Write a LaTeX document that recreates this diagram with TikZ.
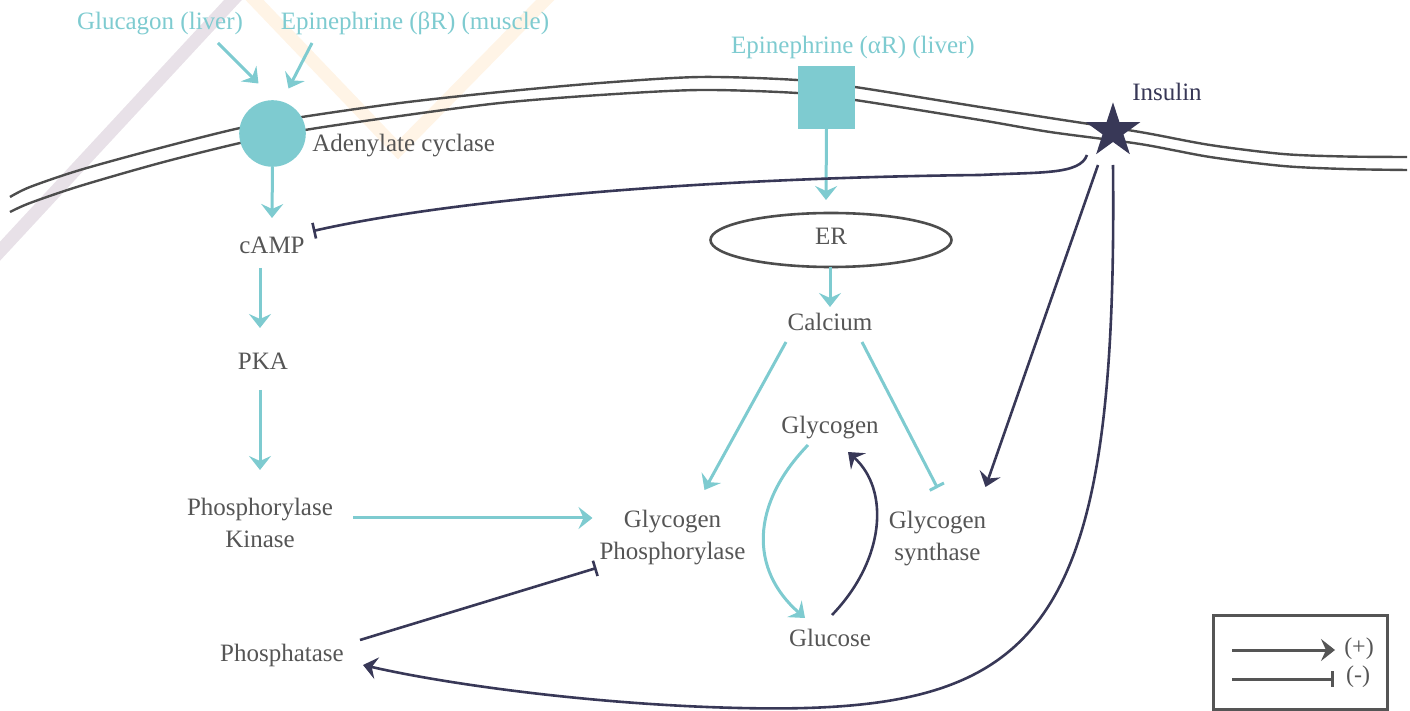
\documentclass[tikz,border=0pt]{standalone}
\usepackage{fontspec}
\setmainfont{Liberation Serif}
\usetikzlibrary{arrows.meta,shapes.geometric,calc}
\definecolor{teal1}{HTML}{7ECBD0}
\definecolor{navy1}{HTML}{383857}
\definecolor{txt}{HTML}{555555}
\definecolor{mem}{HTML}{4D4D4D}
\definecolor{wmp}{HTML}{E8E1E8}
\definecolor{wmo}{HTML}{FFF4E6}
\begin{document}
\begin{tikzpicture}[x=0.5pt,y=-0.5pt,
  lbl/.style={inner sep=0pt, text height=0.7em, text depth=0.22em, font=\fontsize{12.5}{16}\selectfont, text=txt},
  lbltwo/.style={inner sep=0pt, align=center, font=\fontsize{12.5}{16}\selectfont, text=txt},
  tlbl/.style={lbl, text=teal1},
  act/.style={draw=teal1, line width=1.5pt, -{Stealth[length=7pt,width=11pt,inset=2.5pt]}},
  actn/.style={draw=navy1, line width=1.3pt, -{Stealth[length=7pt,width=11pt,inset=2.5pt]}},
  inht/.style={draw=teal1, line width=1.5pt, -{Bar[width=8pt]}},
  inhn/.style={draw=navy1, line width=1.3pt, -{Bar[width=8pt]}},
  memb/.style={draw=mem, line width=1.2pt},
]
\useasboundingbox (0,0) rectangle (1410,711);
% faint watermark strokes
\draw[wmp, line width=6.5pt] (245,-13) -- (-10,262);
\draw[wmo, line width=6.5pt] (245,-10) -- (398,150) -- (555,-10);
% membrane
\draw[memb] plot[smooth, tension=0.5] coordinates {(10,197) (30,187) (80,170) (160,148) (240,128) (302,117) (400,103) (500,92) (600,83) (700,77) (797,80) (855,87) (980,107) (1050,118) (1140,132) (1210,145) (1283,154) (1345,156.5) (1407,157)};
\draw[memb] plot[smooth, tension=0.5] coordinates {(10,212) (30,203) (80,186) (160,163) (240,143) (305,130) (400,116) (500,103) (600,95) (700,90) (797,93) (855,100) (980,120) (1050,132) (1140,144) (1210,157) (1283,166) (1345,169) (1407,170)};
% receptors
\node[circle, fill=teal1, minimum size=33.3pt, inner sep=0pt] (ac) at (272.5,133.5) {};
\node[rectangle, fill=teal1, minimum width=28.5pt, minimum height=31.5pt, inner sep=0pt] (rec) at (826.5,97.5) {};
\node[star, star points=5, star point ratio=2.618, fill=navy1, minimum size=28.7pt, inner sep=0pt] (ins) at (1113,131) {};
% labels
\node[tlbl] (gluc) at (160,25) {Glucagon (liver)};
\node[tlbl] (epib) at (415,25) {Epinephrine (βR) (muscle)};
\node[tlbl] (epia) at (853,49) {Epinephrine (αR) (liver)};
\node[lbl, anchor=west] (aclabel) at (312,147) {Adenylate cyclase};
\node[lbl, text=navy1] (inslabel) at (1167,96) {Insulin};
\node[lbl] (camp) at (272,249) {cAMP};
\node[lbl] (pka) at (263,365) {PKA};
\node[lbltwo] (phk) at (260,523) {Phosphorylase\\Kinase};
\node[lbltwo] (gp) at (672.5,538) {Glycogen\\Phosphorylase};
\node[lbl] (ptase) at (282,657) {Phosphatase};
\node[lbl, ellipse, draw=mem, line width=1.3pt, minimum width=120.5pt, minimum height=27pt] (er) at (831,240) {ER};
\node[lbl] (ca) at (830,326) {Calcium};
\node[lbl] (glyc) at (830,429) {Glycogen};
\node[lbltwo] (gs) at (937.5,539) {Glycogen\\synthase};
\node[lbl] (glu) at (830,642) {Glucose};
% teal connectors
\draw[act] ($(gluc)+(58,18)$) -- ($(ac)+(-14,-50)$);
\draw[act] ($(epib)+(-103,18)$) -- ($(ac)+(16,-45)$);
\draw[act] ($(ac)+(0,33)$) -- ($(camp)+(0,-31)$);
\draw[act] ($(camp)+(-12,19)$) -- ($(pka)+(-3,-37)$);
\draw[act] ($(pka)+(-3,25)$) -- ($(phk)+(0,-53)$);
\draw[act] ($(phk)+(93,-5)$) -- ($(gp)+(-80,-20)$);
\draw[act] ($(rec)+(0,31)$) -- ($(er)+(-5,-40)$);
\draw[act] ($(er)+(-1,27)$) -- ($(ca)+(0,-19)$);
\draw[act] ($(ca)+(-44,16)$) -- ($(gp)+(32,-48)$);
\draw[inht] ($(ca)+(32,16)$) -- ($(gs)+(0,-51)$);
\draw[act] ($(glyc)+(-22,16)$) .. controls (750,505) and (750,570) .. ($(glu)+(-25,-24)$);
% navy connectors
\draw[actn] ($(glu)+(2,-27)$) .. controls (885,560) and (890,490) .. ($(glyc)+(18,23)$);
\draw[inhn] ($(ptase)+(78,-17)$) -- ($(gp)+(-76,30)$);
\draw[actn] ($(ins)+(-15,34)$) -- ($(gs)+(48,-52)$);
\draw[inhn] ($(ins)+(-26,24)$) .. controls (1080,175) and (1040,172) .. (980,175) .. controls (700,178) and (450,200) .. ($(camp)+(41,-18)$);
\draw[actn] ($(ins)+(0,34)$) .. controls (1118,640) and (1040,715) .. (740,708) .. controls (600,705) and (450,685) .. ($(ptase)+(81,8)$);
% legend
\node[draw=txt, line width=1.5pt, minimum width=87pt, minimum height=47pt, inner sep=0pt] (legend) at (1300,662) {};
\node[lbl, font=\fontsize{12}{14}\selectfont] (lplus) at ($(legend)+(59,-12)$) {(+)};
\node[lbl, font=\fontsize{12}{14}\selectfont] (lminus) at ($(legend)+(58,16)$) {(-)};
\draw[draw=txt, line width=1.5pt, -{Stealth[length=7pt,width=11pt,inset=2.5pt]}] ($(legend)+(-68,-12)$) -- ($(lplus)+(-24,0)$);
\draw[draw=txt, line width=1.5pt, -{Bar[width=8pt]}] ($(legend)+(-68,17)$) -- ($(lminus)+(-24,1)$);
\end{tikzpicture}
\end{document}
